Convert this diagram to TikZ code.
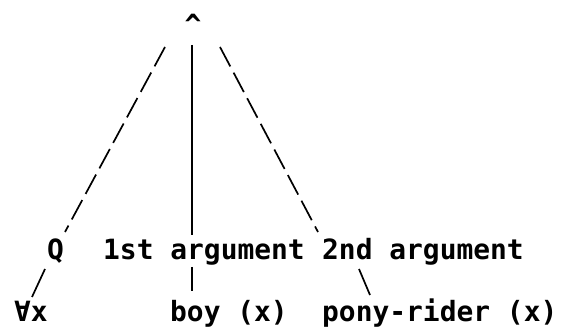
\documentclass[tikz,border=0pt]{standalone}
\usepackage{fontspec}
\newfontfamily\tw{DejaVu Sans Mono}
\begin{document}
\begin{tikzpicture}[x=1pt,y=1pt,
  txt/.style={inner sep=0pt, font=\tw\bfseries\fontsize{27.9}{30}\selectfont},
  dl/.style={line width=1.7pt, dash pattern=on 22pt off 7pt},
  sl/.style={line width=1.7pt}]
\useasboundingbox (0,0) rectangle (562,329);
\node[txt, anchor=north] (caret) at (193,315) {\textasciicircum};
\node[txt, anchor=base west] (Q) at (47,69) {Q};
\node[txt, anchor=base west] (first) at (103,69) {1st argument};
\node[txt, anchor=base west] (second) at (322,69) {2nd argument};
\node[txt, anchor=base west] (forall) at (14,7) {∀x};
\node[txt, anchor=base west] (boy) at (170,7) {boy (x)};
\node[txt, anchor=base west] (pony) at (322,7) {pony-rider (x)};
\draw[dl] ([shift={(-28,-33)}]caret.north) -- ([shift={(18,28)}]Q.base west);
\draw[sl] ([shift={(-1,-31)}]caret.north) -- ([shift={(89,25)}]first.base west);
\draw[dl] ([shift={(27,-33)}]caret.north) -- ([shift={(-4,28)}]second.base west);
\draw[sl] ([shift={(-2,-9)}]Q.base west) -- ([shift={(18,25)}]forall.base west);
\draw[sl] ([shift={(89,-7)}]first.base west) -- ([shift={(22,31)}]boy.base west);
\draw[sl] ([shift={(37,-9)}]second.base west) -- ([shift={(48,27)}]pony.base west);
\end{tikzpicture}
\end{document}
